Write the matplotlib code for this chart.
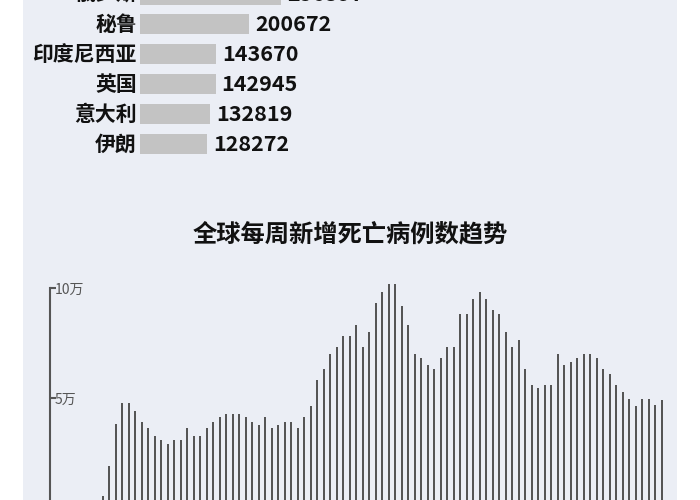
import numpy as np
import matplotlib
matplotlib.use('Agg')
import matplotlib.pyplot as plt
from matplotlib.patches import Rectangle
from matplotlib.ticker import FuncFormatter

plt.rcParams['font.family'] = ['Noto Sans CJK SC', 'DejaVu Sans']

# Top ranking (cumulative deaths), only the rows visible in the crop
countries = ['俄罗斯', '秘鲁', '印度尼西亚', '英国', '意大利', '伊朗']
country_deaths = [256397, 200672, 143670, 142945, 132819, 128272]

# Global weekly new deaths
weekly_deaths = [5500, 19200, 38000, 47900, 47900, 44200, 39000, 36300, 32600, 31100,
                 29300, 31100, 31100, 36300, 32600, 32600, 36300, 39000, 41200, 42900,
                 42900, 42900, 41200, 39000, 37800, 41200, 36300, 37800, 39000, 39000,
                 36300, 41200, 46300, 58200, 63400, 69800, 73000, 78100, 78100, 83100,
                 73000, 80200, 93300, 98300, 102000, 102000, 91600, 83100, 69800, 68000,
                 64800, 63100, 68000, 73000, 73000, 88100, 88100, 95100, 98300, 95100,
                 90200, 88100, 80200, 73000, 76400, 63100, 55900, 54600, 55900, 55900,
                 69800, 64800, 66200, 68000, 69800, 69800, 68000, 63100, 61100, 55900,
                 52900, 49400, 46300, 49400, 49400, 47000, 48900]
y_ticks = [50000, 100000]

W, H = 700, 500
fig = plt.figure(figsize=(7, 5), dpi=100)
fig.patch.set_facecolor('white')

# light panel behind everything
fig.add_artist(Rectangle((23 / W, 0), (677 - 23) / W, 1, transform=fig.transFigure,
                         facecolor='#ebeef5', edgecolor='none', zorder=0))

# ---- ranking bars ----
ax1 = fig.add_axes([140 / W, 1 - 170 / H, 540 / W, 170 / H])
ax1.patch.set_alpha(0)
ax1.axis('off')
rows = np.arange(len(countries))
ax1.barh(rows, country_deaths, height=0.67, color='#c3c3c3')
ax1.set_xlim(11460, 11460 + 540 / 5.76e-4)
ax1.set_ylim((170 + 5.5) / 29.9, 5.5 / 29.9)
for i, (name, val) in enumerate(zip(countries, country_deaths)):
    ax1.annotate(name, xy=(0, i), xycoords=('axes fraction', 'data'),
                 xytext=(-3, 0), textcoords='offset pixels',
                 ha='right', va='center', fontsize=15, fontweight='bold', color='#111111',
                 annotation_clip=False)
    ax1.annotate(str(val), xy=(val, i), xytext=(6, 0), textcoords='offset pixels',
                 ha='left', va='center', fontsize=15.5, fontweight='bold', color='#111111',
                 annotation_clip=False)

# ---- title of the weekly chart ----
fig.text(350.5 / W, 1 - 234 / H, '全球每周新增死亡病例数趋势', ha='center', va='center',
         fontsize=17.5, fontweight='bold', color='#111111')

# ---- weekly deaths ----
ax2 = fig.add_axes([50 / W, 1 - 508 / H, 620 / W, 220 / H])
ax2.patch.set_alpha(0)
weeks = np.arange(len(weekly_deaths))
ax2.bar(weeks, weekly_deaths, width=0.36, color='#555555', clip_on=False)
ax2.set_xlim((50 - 102.7) / 6.5, (670 - 102.7) / 6.5)
ax2.set_ylim(0, 100000)
for s in ['top', 'right', 'bottom']:
    ax2.spines[s].set_visible(False)
ax2.spines['left'].set_color('#555555')
ax2.spines['left'].set_linewidth(1.5)
ax2.set_xticks([])
ax2.set_yticks(y_ticks)
ax2.yaxis.set_major_formatter(FuncFormatter(lambda v, p: f'{v / 10000:.0f}万'))
ax2.tick_params(axis='y', direction='in', length=4, width=1.5, color='#555555',
                pad=-3.5, labelsize=10, labelcolor='#555555')
for lbl in ax2.get_yticklabels():
    lbl.set_horizontalalignment('left')

fig.savefig('out.png', dpi=100, facecolor='white')
